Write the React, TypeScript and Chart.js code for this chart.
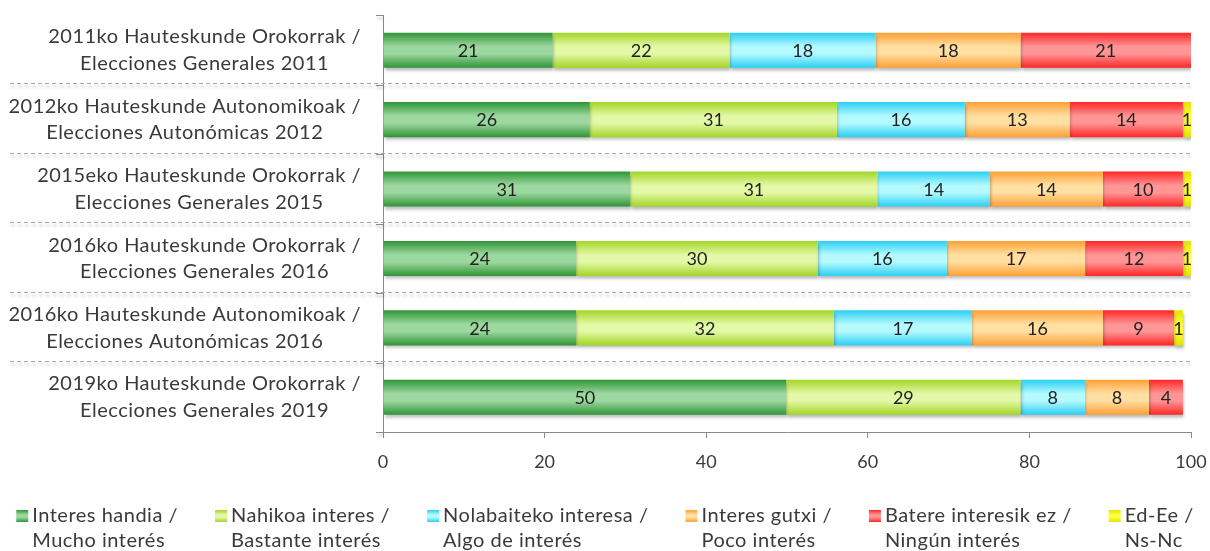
import React, { useEffect, useRef } from 'react';
import { Chart, registerables } from 'chart.js';

Chart.register(...registerables);

const categories: string[][] = [
  ['2011ko Hauteskunde Orokorrak /', 'Elecciones Generales 2011'],
  ['2012ko Hauteskunde Autonomikoak /', 'Elecciones Autonómicas 2012'],
  ['2015eko Hauteskunde Orokorrak /', 'Elecciones Generales 2015'],
  ['2016ko Hauteskunde Orokorrak /', 'Elecciones Generales 2016'],
  ['2016ko Hauteskunde Autonomikoak /', 'Elecciones Autonómicas 2016'],
  ['2019ko Hauteskunde Orokorrak /', 'Elecciones Generales 2019'],
];

const seriesLabels: string[][] = [
  ['Interes handia /', 'Mucho interés'],
  ['Nahikoa interes /', 'Bastante interés'],
  ['Nolabaiteko interesa /', 'Algo de interés'],
  ['Interes gutxi /', 'Poco interés'],
  ['Batere interesik ez /', 'Ningún interés'],
  ['Ed-Ee /', 'Ns-Nc'],
];

const muchoInteres = [21.0, 25.6, 30.6, 23.9, 23.9, 49.9];
const bastanteInteres = [21.9, 30.6, 30.6, 29.9, 31.9, 29.0];
const algoInteres = [18.1, 15.8, 13.9, 16.0, 17.1, 8.0];
const pocoInteres = [17.9, 13.0, 14.0, 17.1, 16.2, 7.9];
const ningunInteres = [21.1, 14.0, 9.9, 12.1, 8.8, 4.2];
const nsNc = [0, 1.0, 1.0, 1.0, 1.1, 0];

const xTicks = [0, 20, 40, 60, 80, 100];

const seriesValues = [muchoInteres, bastanteInteres, algoInteres, pocoInteres, ningunInteres, nsNc];

const edgeColors = ['#2f9536', '#a3d526', '#2ccff4', '#ffa035', '#ff2626', '#e2e200'];
const midColors = ['#9dd8a0', '#e3f9a8', '#b4faff', '#ffdfa2', '#ff9696', '#ffff3c'];

const FONT = 'Lato, "Open Sans", sans-serif';
const AXIS = '#8a8a8a';
const TEXT = '#3a3a3a';
const BAR_PCT = 0.505;

function makeGrad(ctx: CanvasRenderingContext2D, y0: number, y1: number, i: number) {
  const g = ctx.createLinearGradient(0, y0, 0, y1);
  g.addColorStop(0, edgeColors[i]);
  g.addColorStop(0.4, midColors[i]);
  g.addColorStop(0.6, midColors[i]);
  g.addColorStop(1, edgeColors[i]);
  return g;
}

const shadowPlugin = {
  id: 'barShadow',
  beforeDatasetsDraw(chart: any) {
    const ctx = chart.ctx;
    ctx.save();
    ctx.shadowColor = 'rgba(0,0,0,0.28)';
    ctx.shadowBlur = 3;
    ctx.shadowOffsetX = 1;
    ctx.shadowOffsetY = 3;
  },
  afterDatasetsDraw(chart: any) {
    chart.ctx.restore();
  },
};

const separatorPlugin = {
  id: 'separators',
  beforeDatasetsDraw(chart: any) {
    const ctx = chart.ctx;
    const y = chart.scales.y;
    const area = chart.chartArea;
    const n = categories.length;
    const half = (y.getPixelForValue(1) - y.getPixelForValue(0)) / 2;
    ctx.save();
    ctx.lineWidth = 1;
    ctx.strokeStyle = '#a6a6a6';
    ctx.setLineDash([4, 3]);
    for (let i = 0; i < n - 1; i++) {
      const py = Math.floor(y.getPixelForValue(i) + half) - 0.5;
      ctx.beginPath();
      ctx.moveTo(10, py);
      ctx.lineTo(area.right, py);
      ctx.stroke();
    }
    ctx.setLineDash([]);
    ctx.strokeStyle = AXIS;
    for (let i = 0; i <= n; i++) {
      const py = Math.round(y.getPixelForValue(i) - half) + 0.5;
      ctx.beginPath();
      ctx.moveTo(area.left - 7, py);
      ctx.lineTo(area.left, py);
      ctx.stroke();
    }
    ctx.restore();
  },
};

const dataLabelPlugin = {
  id: 'dataLabels',
  afterDatasetsDraw(chart: any) {
    const ctx = chart.ctx;
    ctx.save();
    ctx.font = `18px ${FONT}`;
    ctx.fillStyle = '#222';
    ctx.textAlign = 'center';
    ctx.textBaseline = 'middle';
    chart.data.datasets.forEach((ds: any, di: number) => {
      const meta = chart.getDatasetMeta(di);
      meta.data.forEach((el: any, i: number) => {
        const v = ds.data[i];
        if (!v) return;
        ctx.fillText(String(Math.round(v)), (el.x + el.base) / 2, el.y + 1);
      });
    });
    ctx.restore();
  },
};

const categoryLabelPlugin = {
  id: 'categoryLabels',
  afterDraw(chart: any) {
    const ctx = chart.ctx;
    const y = chart.scales.y;
    const area = chart.chartArea;
    ctx.save();
    ctx.font = `20px ${FONT}`;
    (ctx as any).letterSpacing = '0.5px';
    ctx.fillStyle = TEXT;
    ctx.textAlign = 'center';
    ctx.textBaseline = 'middle';
    const lh = 26.5;
    categories.forEach((lines, i) => {
      const yc = y.getPixelForValue(i);
      const w = Math.max(...lines.map((l) => ctx.measureText(l).width));
      const cx = area.left - 22 - w / 2;
      lines.forEach((l, j) => {
        ctx.fillText(l, cx, yc + (j - (lines.length - 1) / 2) * lh);
      });
    });
    ctx.restore();
  },
};

const legendPlugin = {
  id: 'customLegend',
  afterDraw(chart: any) {
    const ctx = chart.ctx;
    const area = chart.chartArea;
    ctx.save();
    ctx.font = `20px ${FONT}`;
    (ctx as any).letterSpacing = '0.5px';
    ctx.fillStyle = TEXT;
    ctx.textAlign = 'left';
    ctx.textBaseline = 'middle';
    const box = 12;
    const textGap = 4;
    const gap = 37;
    const widths = seriesLabels.map(
      (lines) => box + textGap + Math.max(...lines.map((l) => ctx.measureText(l).width))
    );
    const total = widths.reduce((a, b) => a + b, 0) + gap * (widths.length - 1);
    let x = (chart.width - total) / 2;
    const y1 = area.bottom + 84;
    const lh = 25;
    seriesLabels.forEach((lines, i) => {
      const by = y1 - box / 2;
      ctx.fillStyle = makeGrad(ctx, by, by + box, i);
      ctx.fillRect(x, by, box, box);
      ctx.fillStyle = TEXT;
      lines.forEach((l, j) => ctx.fillText(l, x + box + textGap, y1 + j * lh));
      x += widths[i] + gap;
    });
    ctx.restore();
  },
};

export default function App() {
  const ref = useRef<HTMLCanvasElement | null>(null);

  useEffect(() => {
    if (!ref.current) return;
    const chart = new Chart(ref.current, {
      type: 'bar',
      data: {
        labels: categories.map((c) => c.join(' ')),
        datasets: seriesValues.map((vals, i) => ({
          label: seriesLabels[i].join(' '),
          data: vals,
          borderWidth: 0,
          categoryPercentage: 1,
          barPercentage: BAR_PCT,
          backgroundColor: (c: any) => {
            const ch = c.chart;
            if (c.type !== 'data' || !ch.chartArea || !ch.scales.y) return edgeColors[i];
            const ys = ch.scales.y;
            const yc = ys.getPixelForValue(c.dataIndex);
            const h = (ys.getPixelForValue(1) - ys.getPixelForValue(0)) * BAR_PCT;
            return makeGrad(ch.ctx, yc - h / 2, yc + h / 2, i);
          },
        })),
      },
      options: {
        indexAxis: 'y',
        responsive: true,
        maintainAspectRatio: false,
        animation: false,
        layout: { padding: { top: 15.5, right: 19, bottom: 0, left: 0 } },
        plugins: {
          legend: { display: false },
          tooltip: { enabled: false },
        },
        scales: {
          x: {
            type: 'linear',
            stacked: true,
            min: 0,
            max: 100,
            position: 'bottom',
            afterFit: (s: any) => {
              s.height = 119;
              s.paddingLeft = 0;
              s.paddingRight = 0;
            },
            afterBuildTicks: (s: any) => {
              s.ticks = xTicks.map((v) => ({ value: v }));
            },
            grid: {
              display: true,
              drawOnChartArea: false,
              drawTicks: true,
              tickLength: 6,
              color: AXIS,
              lineWidth: 1,
            },
            border: { display: true, color: AXIS },
            ticks: {
              font: { family: FONT, size: 18 },
              color: TEXT,
              padding: 13,
              maxRotation: 0,
            },
          },
          y: {
            type: 'category',
            stacked: true,
            afterFit: (s: any) => {
              s.width = 383;
            },
            ticks: { display: false },
            grid: { display: false },
            border: { display: true, color: AXIS },
          },
        },
      },
      plugins: [shadowPlugin, separatorPlugin, dataLabelPlugin, categoryLabelPlugin, legendPlugin],
    } as any);
    return () => chart.destroy();
  }, []);

  return (
    <div style={{ position: 'fixed', left: 0, top: 0, width: 1210, height: 551, background: '#fff' }}>
      <canvas ref={ref} />
    </div>
  );
}
